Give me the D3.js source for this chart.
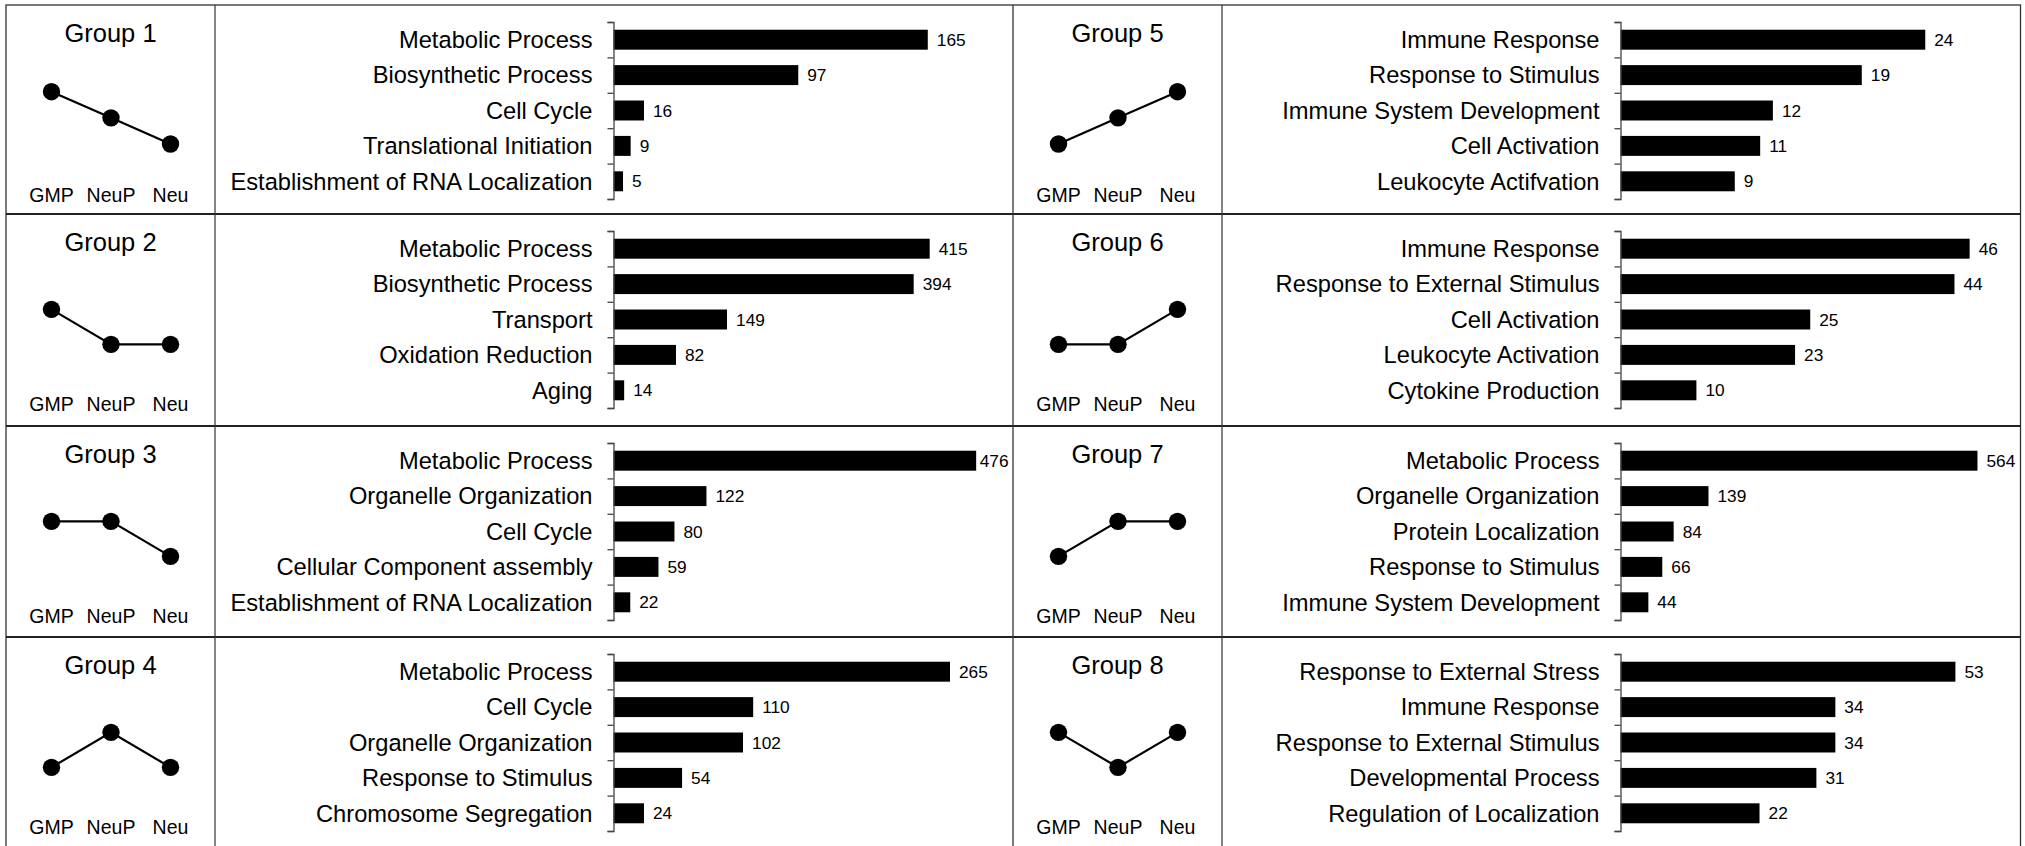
<!DOCTYPE html>
<html>
<head>
<meta charset="utf-8">
<script src="https://cdn.jsdelivr.net/npm/d3@7"></script>
<style>
  html, body { margin: 0; padding: 0; background: #fff; }
  svg { display: block; font-family: "Liberation Sans", Arial, sans-serif; }
</style>
</head>
<body>
<svg id="chart" width="2025" height="846"></svg>
<script>
// ---------------- data ----------------
const groupNames = ["Group 1", "Group 2", "Group 3", "Group 4", "Group 5", "Group 6", "Group 7", "Group 8"];
const stages = ["GMP", "NeuP", "Neu"];
// relative expression pattern across stages (high = 1, low = -1)
const patterns = [
  [1, 0, -1],
  [0.67, -0.67, -0.67],
  [0.67, 0.67, -0.67],
  [-0.67, 0.67, -0.67],
  [-1, 0, 1],
  [-0.67, -0.67, 0.67],
  [-0.67, 0.67, 0.67],
  [0.67, -0.67, 0.67]
];
const categories = [
  ["Metabolic Process", "Biosynthetic Process", "Cell Cycle", "Translational Initiation", "Establishment of RNA Localization"],
  ["Metabolic Process", "Biosynthetic Process", "Transport", "Oxidation Reduction", "Aging"],
  ["Metabolic Process", "Organelle Organization", "Cell Cycle", "Cellular Component assembly", "Establishment of RNA Localization"],
  ["Metabolic Process", "Cell Cycle", "Organelle Organization", "Response to Stimulus", "Chromosome Segregation"],
  ["Immune Response", "Response to Stimulus", "Immune System Development", "Cell Activation", "Leukocyte Actifvation"],
  ["Immune Response", "Response to External Stimulus", "Cell Activation", "Leukocyte Activation", "Cytokine Production"],
  ["Metabolic Process", "Organelle Organization", "Protein Localization", "Response to Stimulus", "Immune System Development"],
  ["Response to External Stress", "Immune Response", "Response to External Stimulus", "Developmental Process", "Regulation of Localization"]
];
const counts = [
  [165, 97, 16, 9, 5],
  [415, 394, 149, 82, 14],
  [476, 122, 80, 59, 22],
  [265, 110, 102, 54, 24],
  [24, 19, 12, 11, 9],
  [46, 44, 25, 23, 10],
  [564, 139, 84, 66, 44],
  [53, 34, 34, 31, 22]
];
// x-axis maximum of each panel
const axisMax = [210, 525, 525, 315, 31.5, 52.7, 632, 63.3];

// ---------------- layout ----------------
const svg = d3.select("#chart");
const colX = [6, 1013];
const colW = 1007.5;
const rowTops = [5, 214, 426, 637];
const bottomY = 848;
const labelCellW = 209;
const axisOffset = 607.5;
const barRangeW = 400;

// borders
const border = svg.append("g").attr("stroke", "#333").attr("fill", "none");
border.append("rect")
  .attr("x", colX[0]).attr("y", rowTops[0])
  .attr("width", colX[1] + colW - colX[0]).attr("height", bottomY - rowTops[0])
  .attr("stroke-width", 1.3);
rowTops.slice(1).forEach(y => {
  border.append("line").attr("x1", colX[0]).attr("x2", colX[1] + colW)
    .attr("y1", y).attr("y2", y).attr("stroke-width", 2).attr("stroke", "#222");
});
border.append("line").attr("x1", colX[1]).attr("x2", colX[1])
  .attr("y1", rowTops[0]).attr("y2", bottomY).attr("stroke-width", 1.3);
colX.forEach(cx => {
  border.append("line").attr("x1", cx + labelCellW).attr("x2", cx + labelCellW)
    .attr("y1", rowTops[0]).attr("y2", bottomY).attr("stroke-width", 1.2);
});

groupNames.forEach((name, gi) => {
  const col = Math.floor(gi / 4);
  const row = gi % 4;
  const cx = colX[col];
  const top = rowTops[row];
  const colEnd = cx + colW;
  const g = svg.append("g");

  // ---- group label cell ----
  g.append("text")
    .attr("x", cx + labelCellW / 2).attr("y", top + 37)
    .attr("text-anchor", "middle")
    .attr("font-size", 25.5).attr("fill", "#000")
    .text(name);

  const px = d3.scalePoint().domain(stages).range([cx + 45.5, cx + 164.5]);
  const py = d3.scaleLinear().domain([-1, 1]).range([top + 139, top + 86.7]);
  const pts = stages.map((s, i) => [px(s), py(patterns[gi][i])]);

  g.append("path")
    .attr("d", d3.line()(pts))
    .attr("fill", "none").attr("stroke", "#000").attr("stroke-width", 2.2);
  g.selectAll("circle.dot").data(pts).join("circle")
    .attr("class", "dot")
    .attr("cx", d => d[0]).attr("cy", d => d[1]).attr("r", 8.7)
    .attr("fill", "#000");

  g.selectAll("text.stage").data(stages).join("text")
    .attr("class", "stage")
    .attr("x", d => px(d))
    .attr("y", top + 197)
    .attr("text-anchor", "middle")
    .attr("font-size", 19.5).attr("fill", "#000")
    .text(d => d);

  // ---- bar panel ----
  const ax = cx + axisOffset;
  const cats = categories[gi];
  const vals = counts[gi];
  const y = d3.scaleBand().domain(cats)
    .range([top + 17, top + 194])
    .paddingInner(0.436).paddingOuter(0.218);
  const x = d3.scaleLinear().domain([0, axisMax[gi]]).range([ax, ax + barRangeW]);

  g.selectAll("rect.bar").data(cats).join("rect")
    .attr("class", "bar")
    .attr("x", x(0))
    .attr("y", d => y(d))
    .attr("width", (d, i) => x(vals[i]) - x(0))
    .attr("height", y.bandwidth())
    .attr("fill", "#000");

  g.selectAll("text.val").data(cats).join("text")
    .attr("class", "val")
    .attr("x", (d, i) => x(vals[i]) + 9)
    .attr("y", d => y(d) + y.bandwidth() / 2)
    .attr("dy", "0.35em")
    .attr("font-size", 17.3).attr("fill", "#000")
    .text((d, i) => vals[i])
    .each(function () {
      // keep the value label inside its panel
      const w = this.getComputedTextLength();
      const xx = +this.getAttribute("x");
      if (xx + w > colEnd - 5) this.setAttribute("x", colEnd - 5 - w);
    });

  g.selectAll("text.cat").data(cats).join("text")
    .attr("class", "cat")
    .attr("x", ax - 21)
    .attr("y", d => y(d) + y.bandwidth() / 2)
    .attr("dy", "0.35em")
    .attr("text-anchor", "end")
    .attr("font-size", 23.7).attr("fill", "#000")
    .text(d => d);

  // category axis with ticks at category boundaries
  const yb = d3.scaleLinear().domain([0, cats.length]).range([top + 17, top + 194]);
  const axisG = g.append("g")
    .attr("transform", `translate(${ax},0)`)
    .call(d3.axisLeft(yb).tickValues(d3.range(0, cats.length + 1)).tickFormat("").tickSize(6).tickSizeOuter(6));
  axisG.selectAll("path, line").attr("stroke", "#444").attr("stroke-width", 1.3);
});
</script>
</body>
</html>
